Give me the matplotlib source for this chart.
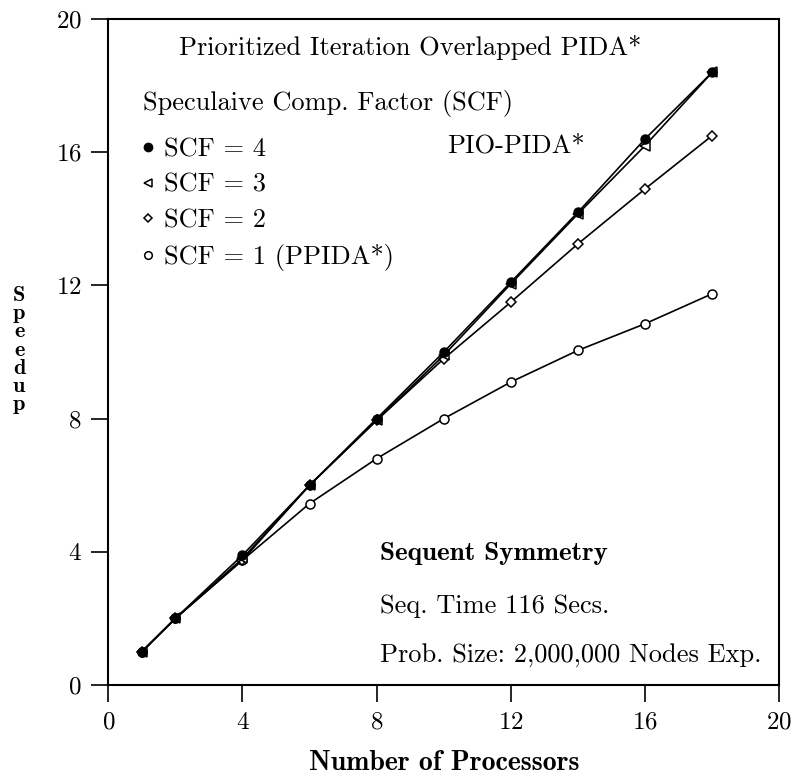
import matplotlib
matplotlib.use("Agg")
import matplotlib.pyplot as plt
from matplotlib.lines import Line2D

plt.rcParams['font.family'] = ['cmr10', 'DejaVu Serif']
plt.rcParams['mathtext.fontset'] = 'cm'
plt.rcParams['axes.formatter.use_mathtext'] = True

procs = [1, 2, 4, 6, 8, 10, 12, 14, 16, 18]
scf4 = [1.0, 2.0, 3.9, 6.0, 8.0, 10.0, 12.1, 14.2, 16.4, 18.4]
scf3 = [1.0, 2.0, 3.8, 6.0, 7.95, 9.9, 12.05, 14.15, 16.2, 18.4]
scf2 = [1.0, 2.0, 3.75, 6.0, 7.95, 9.8, 11.5, 13.25, 14.9, 16.5]
scf1 = [1.0, 2.0, 3.75, 5.45, 6.8, 8.0, 9.1, 10.05, 10.85, 11.75]

xticks = [0, 4, 8, 12, 16, 20]
yticks = [0, 4, 8, 12, 16, 20]

fig = plt.figure(figsize=(7.96, 7.78), dpi=100)
ax = fig.add_axes([0.136, 0.1195, 0.843, 0.856])

lw = 1.2
ax.plot(procs, scf1, color='black', lw=lw, marker='o', ms=6.5, mfc='white', mec='black', mew=1.1)
ax.plot(procs, scf2, color='black', lw=lw, marker='D', ms=5.5, mfc='white', mec='black', mew=1.1)
ax.plot(procs, scf3, color='black', lw=lw, marker='<', ms=7.5, mfc='white', mec='black', mew=1.1)
ax.plot(procs, scf4, color='black', lw=lw, marker='o', ms=6.5, mfc='black', mec='black')

ax.set_xlim(0, 20)
ax.set_ylim(0, 20)
ax.set_xticks(xticks)
ax.set_yticks(yticks)
ax.tick_params(direction='out', length=12, width=1.2, labelsize=18, pad=7)
for s in ax.spines.values():
    s.set_linewidth(1.5)

ax.set_xlabel('Number of Processors', fontfamily='cmb10', fontsize=20, labelpad=12)
fig.text(0.024, 0.55, 'S\np\ne\ne\nd\nu\np', fontfamily='cmb10', fontsize=16,
         ha='center', va='center', linespacing=0.95)

fs = 19
ax.text(2.1, 19.15, 'Prioritized Iteration Overlapped PIDA*', fontsize=fs, va='center')
ax.text(1.05, 17.45, 'Speculaive Comp. Factor (SCF)', fontsize=fs, va='center')
ax.text(10.1, 16.2, 'PIO-PIDA*', fontsize=fs, va='center')
ax.text(8.1, 3.95, 'Sequent Symmetry', fontfamily='cmb10', fontsize=19.5, va='center')
ax.text(8.1, 2.37, 'Seq. Time 116 Secs.', fontsize=fs, va='center')
ax.text(8.1, 0.9, 'Prob. Size: 2,000,000 Nodes Exp.', fontsize=fs, va='center')

handles = [
    Line2D([], [], ls='none', marker='o', ms=6, mfc='black', mec='black'),
    Line2D([], [], ls='none', marker='<', ms=6, mfc='white', mec='black', mew=1.1),
    Line2D([], [], ls='none', marker='D', ms=4.5, mfc='white', mec='black', mew=1.1),
    Line2D([], [], ls='none', marker='o', ms=5.5, mfc='white', mec='black', mew=1.1),
]
labels = ['SCF = 4', 'SCF = 3', 'SCF = 2', 'SCF = 1 (PPIDA*)']
ax.legend(handles, labels, loc='upper left', bbox_to_anchor=(0.05, 0.822),
          frameon=False, fontsize=fs, handlelength=0.5, handletextpad=0.35,
          labelspacing=0.45, borderaxespad=0, borderpad=0)

fig.savefig('out.png', dpi=100)
